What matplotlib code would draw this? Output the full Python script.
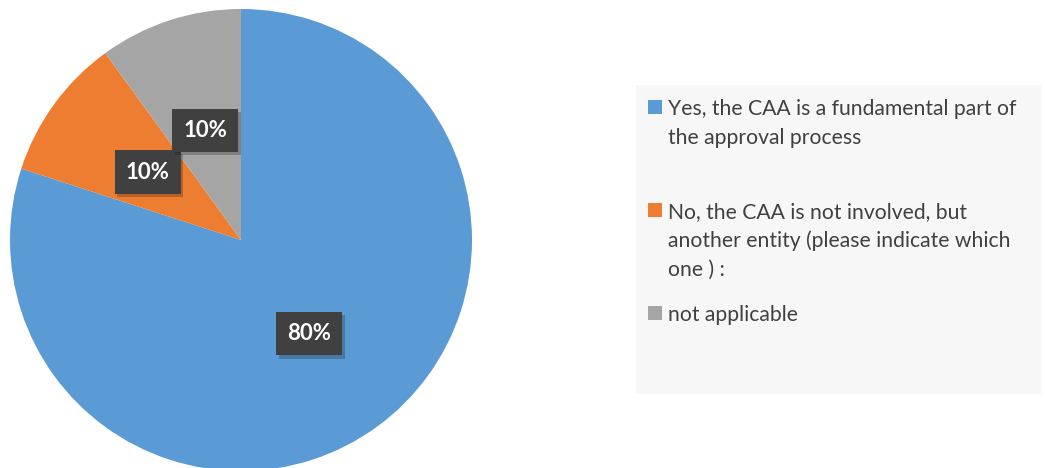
import matplotlib.pyplot as plt
import matplotlib.patheffects as pe
from matplotlib.patches import Rectangle

plt.rcParams['font.family'] = ['Lato', 'DejaVu Sans']

# answers and their shares
ANSWERS = [
    'Yes, the CAA is a fundamental part of\nthe approval process',
    'No, the CAA is not involved, but\nanother entity (please indicate which\none ) :',
    'not applicable',
]
SHARES = [80, 10, 10]
COLORS = ['#5B9BD5', '#ED7D31', '#A5A5A5']

W, H = 1045, 468
fig = plt.figure(figsize=(W / 100, H / 100), dpi=100)
fig.patch.set_facecolor('white')

# pie axes: centre (241, 240) px, radius 231 px
cx, cy, r = 241, 240, 231
ax = fig.add_axes([(cx - r) / W, (H - cy - r) / H, 2 * r / W, 2 * r / H])
wedges, texts, autotexts = ax.pie(
    SHARES, colors=COLORS, startangle=90, counterclock=False,
    autopct='%d%%', pctdistance=0.5,
    wedgeprops=dict(linewidth=0),
    textprops=dict(color='white', fontsize=16, fontweight='bold'))
ax.set_xlim(-1, 1)
ax.set_ylim(-1, 1)
ax.set_aspect('equal')

# dark label boxes with a soft drop shadow
for t in autotexts:
    t.set_bbox(dict(boxstyle='square,pad=0.5', facecolor='#404040',
                    edgecolor='none', linewidth=0))
    t.get_bbox_patch().set_path_effects(
        [pe.SimplePatchShadow(offset=(2, -2.5), alpha=0.25), pe.Normal()])

# legend panel drawn by hand
fig.patches.append(Rectangle((636 / W, 1 - 394 / H), (1041 - 636) / W, (394 - 85) / H,
                             transform=fig.transFigure, facecolor='#F7F7F7',
                             edgecolor='none', zorder=0))
first_baselines = [115, 218, 321]
line_step = 29
for label, color, y0 in zip(ANSWERS, COLORS, first_baselines):
    fig.patches.append(Rectangle((648 / W, 1 - (y0 - 1) / H), 14 / W, 14 / H,
                                 transform=fig.transFigure, facecolor=color,
                                 edgecolor='none', zorder=1))
    for i, line in enumerate(label.split('\n')):
        fig.text(668 / W, 1 - (y0 + i * line_step) / H, line, fontsize=15.2,
                 color='#404040', ha='left', va='baseline')

fig.savefig('out.png', dpi=100)
